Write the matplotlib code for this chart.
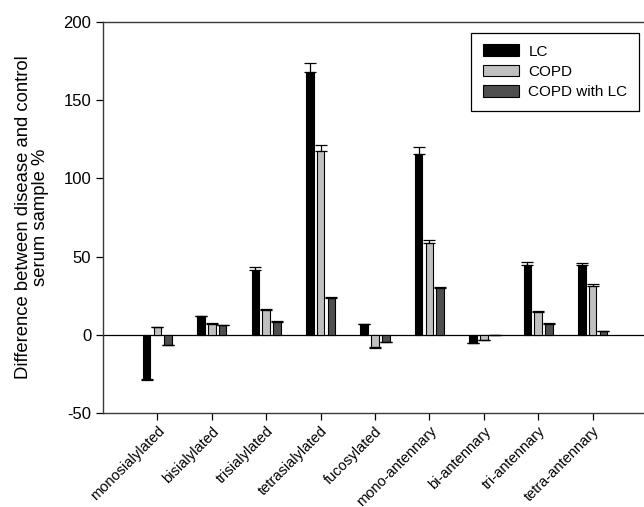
import matplotlib
matplotlib.use('Agg')
import matplotlib.pyplot as plt
import numpy as np

plt.rcParams['font.family'] = ['Liberation Sans', 'DejaVu Sans']
plt.rcParams['axes.unicode_minus'] = False

categories = ['monosialylated', 'bisialylated', 'trisialylated', 'tetrasialylated',
              'fucosylated', 'mono-antennary', 'bi-antennary', 'tri-antennary', 'tetra-antennary']

# values, % difference vs control
lc = [-28.2, 12.0, 41.4, 168.2, 6.6, 115.9, -5.3, 44.8, 44.4]
lc_err = [0.4, 0.3, 1.7, 5.8, 0.3, 4.0, 0.2, 1.7, 1.5]
copd = [4.9, 7.0, 16.0, 117.2, -7.9, 58.7, -3.2, 14.5, 30.9]
copd_err = [0.4, 0.4, 0.3, 4.2, 0.3, 2.1, 0.2, 0.4, 1.3]
copd_lc = [-6.4, 6.2, 8.3, 23.7, -4.3, 30.1, -0.3, 7.0, 2.3]
copd_lc_err = [0.4, 0.3, 0.3, 0.3, 0.2, 0.5, 0.1, 0.4, 0.4]

series = [
    ('LC', lc, lc_err, '#000000'),
    ('COPD', copd, copd_err, '#c0c0c0'),
    ('COPD with LC', copd_lc, copd_lc_err, '#4f4f4f'),
]

fig = plt.figure(figsize=(6.44, 5.07), dpi=100)
ax = fig.add_axes([103 / 644, 94 / 507, 544 / 644, 391 / 507])

x = np.arange(1, len(categories) + 1)
offsets = [-0.2, 0.0, 0.2]
width = 0.14

for (name, vals, errs, col), off in zip(series, offsets):
    vals = np.array(vals)
    errs = np.array(errs)
    # one-sided error bars, pointing away from zero
    lower = np.where(vals < 0, errs, 0)
    upper = np.where(vals >= 0, errs, 0)
    ax.bar(x + off, vals, width, color=col, edgecolor='black', linewidth=0.8,
           label=name, zorder=2)
    ax.errorbar(x + off, vals, yerr=[lower, upper], fmt='none', ecolor='black',
                elinewidth=0.9, capsize=4, capthick=0.9, zorder=3)

ax.axhline(0, color='black', linewidth=0.9, zorder=1)

ax.set_xlim(0, 10)
ax.set_ylim(-50, 200)
ax.set_yticks([-50, 0, 50, 100, 150, 200])
ax.set_xticks(x)
ax.set_xticklabels(categories, rotation=45, ha='right', rotation_mode='anchor', fontsize=10.5)
ax.tick_params(axis='both', direction='out', length=5, width=0.9, colors='black', labelsize=12)
ax.tick_params(axis='x', labelsize=10.5, pad=3)

for s in ax.spines.values():
    s.set_color('#3a3a3a')
    s.set_linewidth(1.0)

ax.set_ylabel('Difference between disease and control\nserum sample %', fontsize=13.3,
              linespacing=1.0, labelpad=10)

leg = ax.legend(loc='upper right', bbox_to_anchor=(639 / 644, 1 - 33 / 507),
                bbox_transform=fig.transFigure, borderaxespad=0, fancybox=False,
                framealpha=1, edgecolor='black', fontsize=11, handlelength=2.4,
                handleheight=0.8, borderpad=0.75, labelspacing=0.4, handletextpad=0.6)
leg.get_frame().set_linewidth(0.9)

fig.savefig('out.png', dpi=100)
